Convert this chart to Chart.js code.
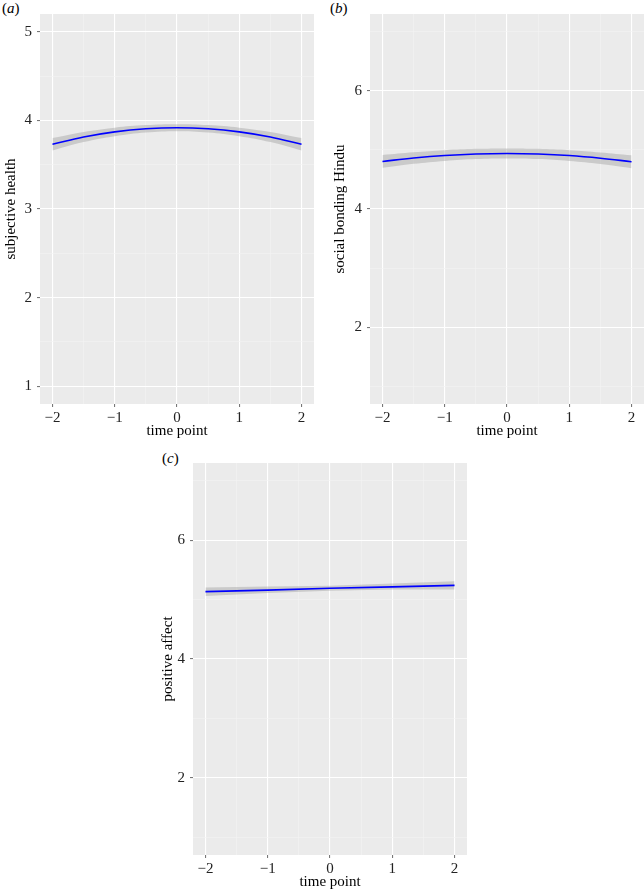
<!DOCTYPE html>
<html>
<head>
<meta charset="utf-8">
<script src="https://cdn.jsdelivr.net/npm/chart.js@4.4.1/dist/chart.umd.min.js"></script>
<style>
    body { margin: 0; background: #fff; width: 644px; height: 891px; position: relative; overflow: hidden; }
    canvas { position: absolute; }
    .tag { position: absolute; font-family: "Liberation Serif", serif; font-size: 15px; color: #000; }
</style>
</head>
<body>
<div class="tag" style="left:2px; top:0px;">(<i>a</i>)</div>
<div class="tag" style="left:330px; top:0px;">(<i>b</i>)</div>
<div class="tag" style="left:162px; top:450px;">(<i>c</i>)</div>
<canvas id="chartA" width="322" height="442" style="left:0; top:0;"></canvas>
<canvas id="chartB" width="322" height="442" style="left:322px; top:0;"></canvas>
<canvas id="chartC" width="340" height="451" style="left:130px; top:440px;"></canvas>
<script>
// valores
const timePoints = [-2, -1.5, -1, -0.5, 0, 0.5, 1, 1.5, 2];
const timePointsC = [-2, -1, 0, 1, 2];

const healthFit   = [3.73, 3.812, 3.87, 3.905, 3.917, 3.905, 3.87, 3.812, 3.73];
const healthUpper = [3.80, 3.869, 3.918, 3.947, 3.957, 3.947, 3.918, 3.869, 3.80];
const healthLower = [3.66, 3.755, 3.822, 3.863, 3.877, 3.863, 3.822, 3.755, 3.66];

const bondingFit   = [4.805, 4.862, 4.905, 4.931, 4.94, 4.931, 4.905, 4.86, 4.80];
const bondingUpper = [4.914, 4.96, 4.996, 5.018, 5.025, 5.018, 4.996, 4.958, 4.909];
const bondingLower = [4.696, 4.764, 4.814, 4.845, 4.855, 4.845, 4.814, 4.762, 4.691];

const affectFit   = [5.135, 5.16, 5.19, 5.215, 5.24];
const affectUpper = [5.205, 5.22, 5.235, 5.27, 5.31];
const affectLower = [5.06, 5.11, 5.15, 5.17, 5.17];

// ticks
const xTicks = [-2, -1, 0, 1, 2];
const xMinor = [-1.5, -0.5, 0.5, 1.5];
const yTicksA = [1, 2, 3, 4, 5];
const yMinorA = [1.5, 2.5, 3.5, 4.5];
const yTicksBC = [2, 4, 6];
const yMinorBC = [1, 3, 5, 7];

const FONT = { family: '"Liberation Serif", "Times New Roman", serif', size: 15 };

// fondo gris del panel (estilo ggplot)
const panelBg = {
    id: 'panelBg',
    beforeDraw(chart) {
        const a = chart.chartArea;
        const ctx = chart.ctx;
        ctx.save();
        ctx.fillStyle = '#EBEBEB';
        ctx.fillRect(a.left, a.top, a.right - a.left, a.bottom - a.top);
        ctx.restore();
    }
};

function fmt(v) {
    return v < 0 ? '\u2212' + Math.abs(v) : String(v);
}

function makeAxis(majors, minors, min, max, size, title, titlePad, isX) {
    return {
        type: 'linear',
        min: min,
        max: max,
        border: { display: false },
        afterBuildTicks(scale) {
            scale.ticks = majors.concat(minors).sort((a, b) => a - b).map(v => ({ value: v }));
        },
        afterFit(scale) {
            if (isX) scale.height = size; else scale.width = size;
        },
        grid: {
            color: ctx => majors.includes(ctx.tick.value) ? '#FFFFFF' : '#F4F4F4',
            lineWidth: ctx => majors.includes(ctx.tick.value) ? 1.1 : 0.6,
            tickColor: ctx => majors.includes(ctx.tick.value) ? '#777777' : 'rgba(0,0,0,0)',
            tickLength: 3
        },
        ticks: {
            autoSkip: false,
            maxRotation: 0,
            padding: isX ? 2 : 5,
            color: '#222',
            font: FONT,
            callback: v => majors.includes(v) ? fmt(v) : ''
        },
        title: {
            display: true,
            text: title,
            color: '#000',
            font: FONT,
            padding: isX ? { top: 0, bottom: 0 } : { top: titlePad, bottom: 0 }
        }
    };
}

function points(xs, ys) {
    return xs.map((x, i) => ({ x: x, y: ys[i] }));
}

function makeChart(id, xs, fit, lower, upper, cfg) {
    const curved = xs.length > 5;
    return new Chart(document.getElementById(id), {
        type: 'line',
        data: {
            datasets: [
                {
                    data: points(xs, fit),
                    borderColor: '#0000FF',
                    borderWidth: 1.6,
                    pointRadius: 0,
                    tension: curved ? 0.4 : 0,
                    fill: false
                },
                {
                    data: points(xs, lower),
                    borderWidth: 0,
                    borderColor: 'rgba(0,0,0,0)',
                    pointRadius: 0,
                    tension: curved ? 0.4 : 0,
                    fill: false
                },
                {
                    data: points(xs, upper),
                    borderWidth: 0,
                    borderColor: 'rgba(0,0,0,0)',
                    backgroundColor: 'rgba(153,153,153,0.4)',
                    pointRadius: 0,
                    tension: curved ? 0.4 : 0,
                    fill: '-1'
                }
            ]
        },
        options: {
            responsive: false,
            animation: false,
            layout: { padding: cfg.padding },
            plugins: { legend: { display: false }, tooltip: { enabled: false } },
            scales: {
                x: makeAxis(xTicks, xMinor, -2.2, 2.2, cfg.xHeight, 'time point', 0, true),
                y: makeAxis(cfg.yTicks, cfg.yMinor, cfg.yMin, cfg.yMax, cfg.yWidth, cfg.yTitle, cfg.yTitlePad, false)
            }
        },
        plugins: [panelBg]
    });
}

makeChart('chartA', timePoints, healthFit, healthLower, healthUpper, {
    padding: { top: 13, right: 8, left: 0, bottom: 2 },
    xHeight: 36, yWidth: 40, yTitlePad: 2,
    yTicks: yTicksA, yMinor: yMinorA, yMin: 0.8, yMax: 5.2,
    yTitle: 'subjective health'
});

makeChart('chartB', timePoints, bondingFit, bondingLower, bondingUpper, {
    padding: { top: 13, right: 0, left: 0, bottom: 2 },
    xHeight: 36, yWidth: 48, yTitlePad: 9,
    yTicks: yTicksBC, yMinor: yMinorBC, yMin: 0.7, yMax: 7.3,
    yTitle: 'social bonding Hindu'
});

makeChart('chartC', timePointsC, affectFit, affectLower, affectUpper, {
    padding: { top: 23, right: 3, left: 0, bottom: 0 },
    xHeight: 36, yWidth: 63, yTitlePad: 29,
    yTicks: yTicksBC, yMinor: yMinorBC, yMin: 0.7, yMax: 7.3,
    yTitle: 'positive affect'
});
</script>
</body>
</html>
